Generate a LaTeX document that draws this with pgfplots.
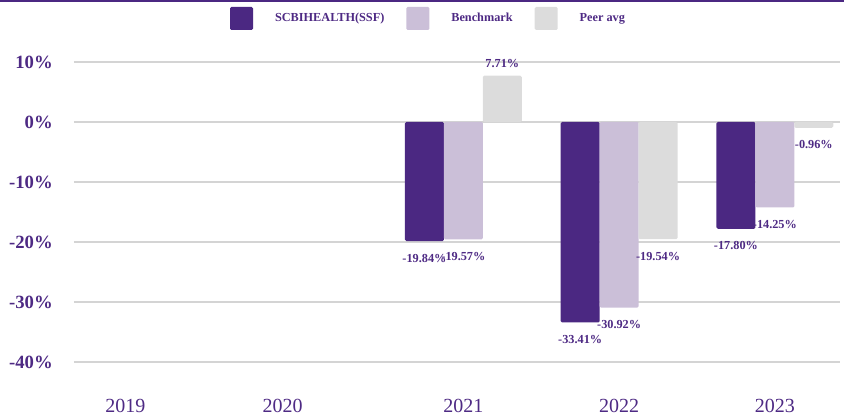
\documentclass[border=0pt]{standalone}
\usepackage{pgfplots}
\pgfplotsset{compat=1.18}
\usepackage{fontspec}
\setmainfont{Liberation Serif}
\definecolor{cdark}{HTML}{4B2882}
\definecolor{clav}{HTML}{CBBFD8}
\definecolor{cgrey}{HTML}{DCDCDC}
\definecolor{ctext}{HTML}{4E2A84}
\definecolor{cgrid}{HTML}{D4D4D4}
\begin{document}
\begin{tikzpicture}
\begin{axis}[
  scale only axis, width=574.5pt, height=225pt,
  xmin=-0.5, xmax=4.418, ymin=-40, ymax=10,
  ybar=0pt, bar width=0.25,
  axis line style={draw=none},
  major tick length=0pt,
  ytick={-40,-30,-20,-10,0,10},
  yticklabels={-40\%,-30\%,-20\%,-10\%,0\%,10\%},
  yticklabel style={font=\fontsize{14}{16}\selectfont\bfseries, text=ctext, inner sep=0pt, xshift=-15.75pt},
  xtick={-0.17,0.84,2,3,4},
  xticklabels={2019,2020,2021,2022,2023},
  xticklabel style={font=\fontsize{15}{17}\selectfont, text=ctext, inner sep=0pt, anchor=base, yshift=-38pt},
  ymajorgrids, grid style={cgrid, line width=1pt},
  nodes near coords={\pgfmathprintnumber[fixed, fixed zerofill, precision=2, assume math mode=true]{\pgfplotspointmeta}\%},
  point meta=y,
  nodes near coords align=vertical,
  nodes near coords style={font=\fontsize{9.2}{10}\selectfont\bfseries, text=ctext, inner xsep=0pt, inner ysep=7.5pt, yshift=-2pt},
  every axis plot post/.append style={legend image code/.code={\fill[##1] (0pt,-8.625pt) rectangle (17.25pt,8.625pt);}},
  legend columns=3,
  legend style={at={(axis description cs:0.4615,1.145)}, anchor=center, draw=none, fill=none,
    font=\fontsize{9.2}{11}\selectfont\bfseries, text=ctext, inner sep=0pt,
    nodes={inner sep=0pt},
    /tikz/every odd column/.append style={column sep=16.5pt},
    /tikz/every even column/.append style={column sep=16.5pt}},
]
\addplot[fill=cdark, draw=none, rounded corners=1pt, bar shift=-0.25] coordinates {(2,-19.84) (3,-33.41) (4,-17.80)};
\addplot[fill=clav, draw=none, rounded corners=1pt, bar shift=0] coordinates {(2,-19.57) (3,-30.92) (4,-14.25)};
\addplot[fill=cgrey, draw=none, rounded corners=1pt, bar shift=0.25] coordinates {(2,7.71) (3,-19.54) (4,-0.96)};
\legend{SCBIHEALTH(SSF),Benchmark,Peer avg}
\coordinate (SW) at (rel axis cs:0,0);
\coordinate (NE) at (rel axis cs:1,1);
\coordinate (NW) at (rel axis cs:0,1);
\end{axis}
\pgfresetboundingbox
\path[use as bounding box] ([xshift=-55.5pt,yshift=-41.25pt]SW) rectangle ([xshift=3pt,yshift=46.5pt]NE);
\draw[cdark, line width=1.5pt] ([xshift=-55.5pt,yshift=45.75pt]NW) -- ([xshift=3pt,yshift=45.75pt]NE);
\end{tikzpicture}
\end{document}
